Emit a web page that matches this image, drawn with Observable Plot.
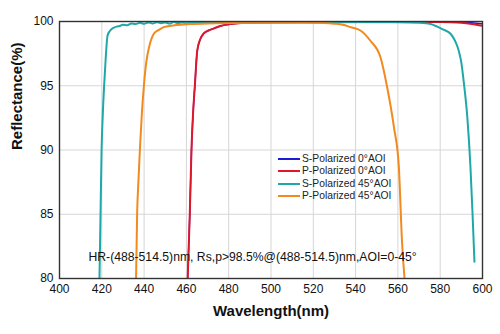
<!DOCTYPE html>
<html>
<head>
<meta charset="utf-8">
<script src="https://cdn.jsdelivr.net/npm/d3@7"></script>
<script src="https://cdn.jsdelivr.net/npm/@observablehq/plot@0.6"></script>
<style>
  body { margin: 0; background: #fff; }
  #wrap { position: relative; width: 500px; height: 334px; font-family: "Liberation Sans", Arial, sans-serif; }
  #legend { position: absolute; left: 278px; top: 153px; font-size: 10.3px; color: #222; line-height: 12.3px; }
  #legend .row { display: flex; align-items: center; white-space: nowrap; }
  #legend .sw { width: 22px; height: 2px; margin-right: 2px; }
</style>
</head>
<body>
<div id="wrap"></div>
<script>
// Series names and colours
const seriesNames = ["S-Polarized 0°AOI", "P-Polarized 0°AOI", "S-Polarized 45°AOI", "P-Polarized 45°AOI"];
const seriesColors = ["#1c1cd6", "#e0162b", "#1fa8a8", "#f28a1e"];

// S-Polarized 0°AOI
const s0Wave = [460.6, 461.0, 461.6, 462.4, 463.2, 464.0, 465.1, 466.5, 468.2, 470.5, 472.8, 476, 480.8, 486, 495, 520, 560, 580, 585, 590, 595, 600];
const s0Refl = [80, 82, 85, 90, 93, 95, 97.7, 98.6, 99.07, 99.3, 99.45, 99.65, 99.8, 99.88, 99.92, 99.95, 99.97, 99.97, 99.97, 99.95, 99.9, 99.82];

// P-Polarized 0°AOI
const p0Wave = [460.6, 461.0, 461.6, 462.4, 463.2, 464.0, 465.1, 466.5, 468.2, 470.5, 472.8, 476, 480.8, 486, 495, 520, 560, 580, 585, 590, 595, 600];
const p0Refl = [80, 82, 85, 90, 93, 95, 97.7, 98.6, 99.07, 99.3, 99.45, 99.65, 99.8, 99.88, 99.92, 99.95, 99.97, 99.97, 99.95, 99.9, 99.8, 99.66];

// S-Polarized 45°AOI
const s45Wave = [418.9, 419.4, 419.9, 420.4, 421.1, 421.8, 422.7, 424, 425.5, 427, 428.5, 430, 432, 434, 436, 438, 440, 442, 444, 446, 448, 450, 452, 454, 456, 458, 460, 462, 464, 466, 468, 470, 472, 474, 476, 478, 480, 490, 500, 520, 540, 560, 570, 575.4, 578.6, 581, 584.9, 587, 588.8, 590, 591.2, 592.8, 594.3, 595.3, 596.2];
const s45Refl = [80, 85, 90, 92.5, 95, 97, 98.9, 99.3, 99.5, 99.6, 99.65, 99.75, 99.7, 99.85, 99.8, 99.9, 99.82, 99.93, 99.85, 99.95, 99.87, 99.92, 99.84, 99.96, 99.88, 99.93, 99.86, 99.95, 99.9, 99.97, 99.9, 99.94, 99.92, 99.96, 99.93, 99.95, 99.94, 99.95, 99.96, 99.96, 99.96, 99.95, 99.9, 99.8, 99.6, 99.4, 99.05, 98.5, 97.7, 96.8, 95.2, 92.6, 88.7, 85, 81.3];

// P-Polarized 45°AOI
const p45Wave = [436.2, 436.7, 437.3, 438.0, 439.0, 439.9, 441, 442.5, 444.6, 447, 449.3, 455, 462, 470, 480, 500, 515, 525, 530, 534, 537.6, 542.3, 547, 551.8, 554.9, 558.1, 560.4, 562.0, 563.1];
const p45Refl = [80, 85, 87.5, 90, 93, 95, 96.8, 98.1, 99.04, 99.35, 99.56, 99.72, 99.8, 99.85, 99.88, 99.9, 99.9, 99.88, 99.83, 99.75, 99.56, 99.3, 98.5, 97.2, 94.9, 91.8, 88.8, 82.7, 80.1];

// Ticks
const xTicks = [400, 420, 440, 460, 480, 500, 520, 540, 560, 580, 600];
const yTicks = [80, 85, 90, 95, 100];

// Annotation
const noteText = ["HR-(488-514.5)nm, Rs,p>98.5%@(488-514.5)nm,AOI=0-45°"];
const noteWave = [413.7];
const noteRefl = [81.7];

const waves = [s0Wave, p0Wave, s45Wave, p45Wave];
const refls = [s0Refl, p0Refl, s45Refl, p45Refl];
const data = [];
seriesNames.forEach((name, i) => {
  waves[i].forEach((w, j) => data.push({series: name, wave: w, refl: refls[i][j]}));
});
const notes = noteText.map((t, i) => ({text: t, wave: noteWave[i], refl: noteRefl[i]}));

const font = "'Liberation Sans', Arial, sans-serif";

const chart = Plot.plot({
  width: 500,
  height: 334,
  marginLeft: 59,
  marginRight: 18,
  marginTop: 21,
  marginBottom: 56,
  style: {fontFamily: font, background: "#fff", color: "#111"},
  x: {domain: [400, 600], ticks: xTicks, label: null},
  y: {domain: [80, 100], ticks: yTicks, label: null},
  color: {domain: seriesNames, range: seriesColors},
  marks: [
    Plot.gridX(xTicks, {stroke: "#d6d6d6", strokeOpacity: 1, strokeWidth: 1}),
    Plot.gridY(yTicks, {stroke: "#d6d6d6", strokeOpacity: 1, strokeWidth: 1}),
    Plot.axisX(xTicks, {tickSize: 0, tickPadding: 6, fontSize: 12, label: null}),
    Plot.axisY(yTicks, {tickSize: 0, tickPadding: 6, fontSize: 12, label: null}),
    Plot.line(data.filter(d => d.series === seriesNames[0]), {x: "wave", y: "refl", stroke: "series", strokeWidth: 1.4, curve: "monotone-x", clip: true}),
    Plot.line(data.filter(d => d.series !== seriesNames[0]), {x: "wave", y: "refl", z: "series", stroke: "series", strokeWidth: 2, curve: "monotone-x", clip: true}),
    Plot.frame({stroke: "#333", strokeWidth: 1.4}),
    Plot.text(notes, {x: "wave", y: "refl", text: "text", textAnchor: "start", fontSize: 12.2, fill: "#111"}),
    Plot.text(["Wavelength(nm)"], {frameAnchor: "bottom", dy: 37, fontSize: 15, fontWeight: "bold", fill: "#111"}),
    Plot.text(["Reflectance(%)"], {frameAnchor: "left", dx: -42, rotate: -90, fontSize: 15, fontWeight: "bold", fill: "#111"})
  ]
});

const wrap = document.getElementById("wrap");
wrap.appendChild(chart);

const legend = document.createElement("div");
legend.id = "legend";
seriesNames.forEach((name, i) => {
  const row = document.createElement("div");
  row.className = "row";
  const sw = document.createElement("span");
  sw.className = "sw";
  sw.style.background = seriesColors[i];
  const label = document.createElement("span");
  label.textContent = name;
  row.appendChild(sw);
  row.appendChild(label);
  legend.appendChild(row);
});
wrap.appendChild(legend);
</script>
</body>
</html>
